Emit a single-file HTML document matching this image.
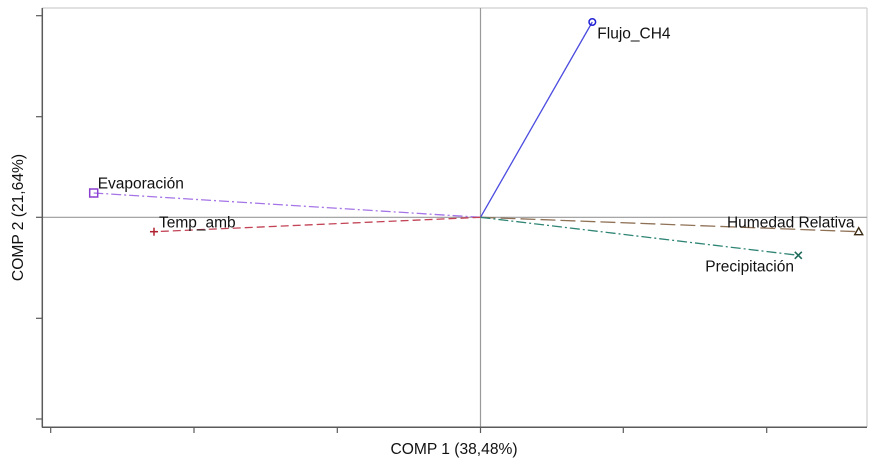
<!DOCTYPE html>
<html>
<head>
<meta charset="utf-8">
<style>
html,body{margin:0;padding:0;background:#fff;}
svg{display:block;}
text{font-family:"Liberation Sans",Arial,sans-serif;fill:#111;}
</style>
</head>
<body>
<svg width="875" height="465" viewBox="0 0 875 465" xmlns="http://www.w3.org/2000/svg">
  <rect x="0" y="0" width="875" height="465" fill="#fff"/>
  <!-- frame -->
  <line x1="42" y1="8" x2="867" y2="8" stroke="#cfcfcf" stroke-width="1.2"/>
  <line x1="867" y1="8" x2="867" y2="427" stroke="#cfcfcf" stroke-width="1.2"/>
  <!-- reference lines -->
  <line x1="42" y1="217.3" x2="867" y2="217.3" stroke="#9a9a9a" stroke-width="1.2"/>
  <line x1="480.5" y1="8" x2="480.5" y2="427" stroke="#9a9a9a" stroke-width="1.2"/>
  <!-- axes -->
  <line x1="42.3" y1="8" x2="42.3" y2="427.5" stroke="#5a5a5a" stroke-width="1.5"/>
  <line x1="42" y1="427.3" x2="867" y2="427.3" stroke="#5a5a5a" stroke-width="1.5"/>
  <!-- y ticks -->
  <g stroke="#5a5a5a" stroke-width="1.2">
    <line x1="36" y1="15.7" x2="42" y2="15.7"/>
    <line x1="36" y1="116.7" x2="42" y2="116.7"/>
    <line x1="36" y1="217.3" x2="42" y2="217.3"/>
    <line x1="36" y1="318.3" x2="42" y2="318.3"/>
    <line x1="36" y1="419" x2="42" y2="419"/>
  </g>
  <!-- x ticks -->
  <g stroke="#5a5a5a" stroke-width="1.2">
    <line x1="50.7" y1="427" x2="50.7" y2="433"/>
    <line x1="194" y1="427" x2="194" y2="433"/>
    <line x1="337.3" y1="427" x2="337.3" y2="433"/>
    <line x1="480.5" y1="427" x2="480.5" y2="433"/>
    <line x1="623.3" y1="427" x2="623.3" y2="433"/>
    <line x1="766.7" y1="427" x2="766.7" y2="433"/>
  </g>

  <!-- vectors -->
  <line x1="480.5" y1="217.3" x2="592.3" y2="22" stroke="#4b4be0" stroke-width="1.3"/>
  <line x1="480.5" y1="217.3" x2="93.7" y2="193" stroke="#a574e6" stroke-width="1.3" stroke-dasharray="10,3,2,3"/>
  <line x1="480.5" y1="217.3" x2="154" y2="231.7" stroke="#c24456" stroke-width="1.3" stroke-dasharray="8,4"/>
  <line x1="480.5" y1="217.3" x2="858.7" y2="231.7" stroke="#8f7156" stroke-width="1.3" stroke-dasharray="15,5"/>
  <line x1="480.5" y1="217.3" x2="798.3" y2="255.3" stroke="#2f8575" stroke-width="1.3" stroke-dasharray="10,3,2,3"/>

  <!-- markers -->
  <circle cx="592.3" cy="22" r="3.3" fill="none" stroke="#1f1fd6" stroke-width="1.5"/>
  <rect x="89.7" y="189" width="8" height="8" fill="none" stroke="#8a3fd0" stroke-width="1.5"/>
  <g stroke="#b0202f" stroke-width="1.5">
    <line x1="150" y1="231.7" x2="158" y2="231.7"/>
    <line x1="154" y1="227.7" x2="154" y2="235.7"/>
  </g>
  <polygon points="858.7,227.7 862.7,234.7 854.7,234.7" fill="none" stroke="#3a2a12" stroke-width="1.4"/>
  <g stroke="#1f6b5c" stroke-width="1.6">
    <line x1="794.8" y1="251.8" x2="801.8" y2="258.8"/>
    <line x1="801.8" y1="251.8" x2="794.8" y2="258.8"/>
  </g>

  <!-- labels -->
  <text x="597.3" y="38.3" font-size="15.5">Flujo_CH4</text>
  <text x="97.7" y="188.5" font-size="15.5">Evaporación</text>
  <text x="159" y="227.7" font-size="15.5">Temp_amb</text>
  <text x="854.5" y="227.7" font-size="15.5" text-anchor="end">Humedad Relativa</text>
  <text x="794" y="271.5" font-size="15.5" text-anchor="end">Precipitación</text>

  <!-- axis titles -->
  <text x="454" y="454" font-size="15.6" text-anchor="middle">COMP 1 (38,48%)</text>
  <text x="0" y="0" font-size="15.6" text-anchor="middle" transform="translate(23,217.5) rotate(-90)">COMP 2 (21,64%)</text>
</svg>
</body>
</html>
